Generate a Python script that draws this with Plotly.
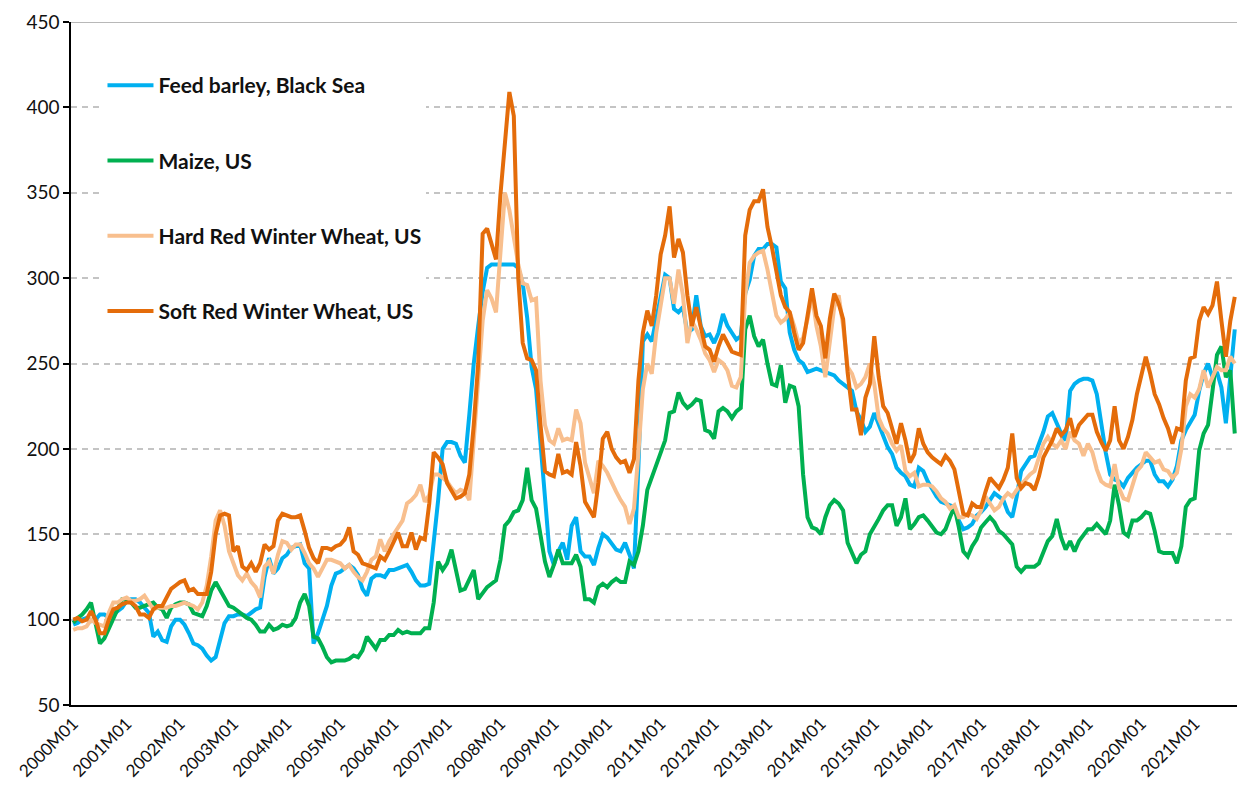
import plotly.graph_objects as go

# months 2000M01 .. 2021M10 (what is visible in the chart)
months = [f"{y}M{m:02d}" for y in range(2000, 2022) for m in range(1, 13)][:262]
tick_labels = [f"{y}M01" for y in range(2000, 2022)]

barley_black_sea = [
    97, 98, 100, 101, 99, 100, 103, 103, 101, 103, 105, 107,
    111, 112, 112, 110, 107, 104, 90, 93, 88, 87, 96, 100,
    100, 97, 92, 86, 85, 83, 79, 76, 78, 88, 98, 102,
    102, 103, 103, 102, 104, 106, 107, 125, 136, 127, 130, 136,
    138, 142, 143, 144, 133, 130, 86, 92, 100, 108, 120, 127,
    128, 130, 132, 130, 126, 118, 114, 124, 126, 126, 125, 129,
    129, 130, 131, 132, 128, 123, 120, 120, 121, 145, 170, 200,
    204, 204, 203, 196, 192, 220, 250, 272, 292, 306, 308, 308,
    308, 308, 308, 308, 306, 297, 277, 248, 235, 205, 170, 140,
    132, 140, 145, 135, 155, 160, 140, 137, 137, 132, 142, 150,
    148, 144, 141, 140, 145, 138, 130, 190, 263, 267, 263, 276,
    289, 302, 300, 282, 280, 283, 268, 270, 290, 272, 266, 267,
    262, 268, 279, 272, 268, 264, 266, 291, 299, 313, 317, 317,
    320, 320, 318, 298, 294, 268, 258, 252, 250, 245, 246, 247,
    246, 245, 244, 243, 240, 238, 236, 234, 222, 217, 210, 213,
    221, 214, 207, 201, 197, 189, 186, 184, 179, 178, 189, 187,
    181, 176, 172, 169, 168, 167, 166, 158, 153, 154, 156, 161,
    163, 166, 170, 174, 172, 170, 163, 160, 172, 187, 191, 195,
    196, 203, 210, 219, 221, 215, 209, 205, 234, 238, 240, 241,
    241, 240, 232, 215, 198, 185, 182, 181, 178, 183, 186, 189,
    191, 193, 193, 185, 181, 181, 178, 182, 190, 205, 211, 216,
    220, 234, 244, 250, 242, 245, 236, 215, 240, 270,
]

maize_us = [
    98, 101, 103, 106, 110, 97, 86, 89, 95, 101, 107, 112,
    112, 110, 107, 107, 108, 109, 110, 107, 106, 101, 107, 109,
    110, 110, 109, 104, 103, 102, 108, 117, 122, 117, 113, 108,
    107, 105, 103, 101, 100, 97, 93, 93, 97, 94, 95, 97,
    96, 97, 101, 110, 115, 108, 90, 89, 84, 78, 75, 76,
    76, 76, 77, 79, 78, 82, 90, 86, 83, 88, 88, 91,
    91, 94, 92, 93, 92, 92, 92, 95, 95, 110, 134, 129,
    133, 141, 130, 117, 118, 124, 129, 112, 116, 119, 121, 123,
    135, 155, 158, 163, 164, 170, 189, 170, 165, 148, 134, 125,
    132, 141, 133, 133, 133, 138, 131, 112, 112, 110, 119, 121,
    119, 122, 124, 122, 122, 134, 132, 140, 155, 176, 183, 190,
    198, 205, 221, 222, 233, 227, 224, 226, 229, 228, 211, 210,
    206, 222, 224, 222, 218, 222, 224, 270, 278, 266, 260, 264,
    250, 238, 237, 249, 227, 237, 236, 225, 185, 160, 154, 153,
    150, 160, 167, 170, 168, 164, 145, 139, 133, 138, 140, 150,
    154, 159, 164, 167, 167, 155, 160, 171, 153, 156, 160, 161,
    158, 154, 151, 150, 153, 160, 166, 154, 140, 137, 143, 147,
    154, 157, 160, 157, 152, 150, 147, 144, 131, 128, 131, 131,
    131, 133, 139, 146, 149, 159, 148, 141, 146, 140, 146, 150,
    153, 153, 156, 153, 150, 158, 179, 167, 151, 149, 158, 158,
    160, 163, 162, 152, 140, 139, 139, 139, 133, 143, 166, 170,
    171, 199, 209, 214, 234, 255, 260, 242, 246, 209,
]

hrw_wheat_us = [
    94, 95, 95, 96, 100, 98, 97, 96, 104, 110, 110, 112,
    113, 111, 111, 112, 114, 110, 106, 107, 107, 107, 108, 108,
    109, 110, 109, 108, 106, 110, 120, 137, 158, 164, 155, 140,
    133, 126, 123, 127, 122, 119, 113, 131, 134, 127, 138, 146,
    145, 141, 144, 144, 139, 133, 130, 125, 130, 135, 135, 134,
    133, 130, 132, 128, 125, 123, 128, 135, 137, 147, 140, 146,
    150, 155, 158, 168, 170, 173, 179, 169, 173, 185, 185, 183,
    181, 177, 174, 176, 175, 170, 205, 235, 275, 293, 288, 280,
    315, 350, 340, 322, 308, 297, 296, 287, 288, 240, 214, 205,
    203, 212, 205, 206, 205, 223, 215, 192, 183, 174, 193, 190,
    186, 180, 175, 170, 166, 156, 165, 198, 235, 250, 244, 268,
    286, 300, 300, 285, 305, 290, 262, 275, 270, 264, 256, 252,
    245, 252, 250, 246, 237, 236, 242, 290, 309, 313, 315, 316,
    305, 290, 278, 274, 276, 280, 272, 262, 265, 276, 290, 272,
    260, 242, 262, 283, 290, 272, 248, 244, 236, 238, 242, 250,
    238, 218, 212, 209, 203, 199, 202, 187, 184, 186, 178, 179,
    179, 178, 175, 171, 169, 165, 167, 160, 160, 162, 161, 159,
    164, 172, 168, 164, 166, 171, 174, 172, 176, 179, 182, 185,
    187, 195, 203, 207, 203, 201, 205, 200, 210, 205, 203, 196,
    203, 198, 188, 181, 179, 178, 191, 177, 171, 170, 179, 187,
    190, 198, 195, 192, 193, 188, 187, 183, 186, 200, 225, 232,
    230, 235, 246, 236, 242, 248, 246, 246, 254, 250,
]

srw_wheat_us = [
    100, 101, 99, 100, 105, 100, 92, 92, 100, 106, 107, 109,
    110, 110, 108, 103, 103, 101, 106, 108, 108, 113, 118, 120,
    122, 123, 117, 118, 115, 115, 115, 128, 150, 161, 162, 161,
    140, 143, 131, 129, 133, 128, 133, 144, 141, 143, 158, 162,
    161, 160, 160, 161, 152, 142, 136, 133, 142, 142, 141, 143,
    144, 147, 154, 140, 138, 133, 132, 131, 130, 137, 135, 140,
    146, 151, 143, 143, 151, 141, 148, 147, 168, 198, 195, 191,
    180, 176, 171, 172, 174, 185, 214, 250, 326, 329, 319, 311,
    349, 382, 409, 395, 300, 262, 253, 252, 246, 214, 187, 185,
    184, 197, 186, 187, 185, 204, 190, 169, 164, 160, 180, 206,
    210, 200, 195, 192, 193, 186, 194, 240, 268, 281, 272, 290,
    314, 325, 342, 312, 323, 315, 290, 272, 283, 272, 260, 258,
    251, 260, 267, 262, 257, 256, 255, 325, 340, 345, 345, 352,
    330, 318, 305, 290, 283, 280, 268, 258, 262, 280, 294, 278,
    272, 253, 276, 291, 285, 276, 245, 223, 223, 208, 230, 238,
    266, 242, 225, 221, 211, 203, 215, 205, 192, 197, 212, 203,
    198, 195, 193, 191, 196, 193, 188, 174, 162, 161, 168, 166,
    166, 175, 183, 180, 177, 182, 189, 209, 183, 177, 180, 179,
    176, 184, 195, 200, 205, 212, 208, 211, 218, 207, 214, 217,
    220, 220, 210, 204, 199, 205, 225, 205, 200, 207, 217, 232,
    242, 254, 244, 232, 226, 218, 212, 203, 212, 211, 240, 253,
    254, 275, 283, 279, 284, 298, 275, 254, 275, 289,
]

series = [
    ("Feed barley, Black Sea", barley_black_sea, "#00B0F0"),
    ("Maize, US", maize_us, "#00B050"),
    ("Hard Red Winter Wheat, US", hrw_wheat_us, "#F8BF8E"),
    ("Soft Red Winter Wheat, US", srw_wheat_us, "#E46C0A"),
]

FONT = "Lato, 'Open Sans', Arial, sans-serif"

fig = go.Figure()
for name, vals, color in series:
    fig.add_trace(go.Scatter(
        x=months, y=vals, name=name, mode="lines",
        line=dict(color=color, width=4),
        legendgroup=name,
    ))

fig.update_layout(
    width=1237, height=802,
    margin=dict(l=71, r=0, t=22, b=97),
    paper_bgcolor="white", plot_bgcolor="white",
    font=dict(family=FONT, color="#111111"),
    showlegend=True,
    legend=dict(
        x=0.027, y=0.937, xanchor="left", yanchor="top",
        bgcolor="white", borderwidth=0,
        font=dict(size=21, family=FONT, color="#111111", weight="bold"),
        tracegroupgap=45, itemwidth=46,
        entrywidth=290, entrywidthmode="pixels",
    ),
    xaxis=dict(
        type="category",
        range=[-0.5, 261.5],
        tickmode="array", tickvals=tick_labels, ticktext=tick_labels,
        tickangle=-45, tickfont=dict(size=17, color="#111111"),
        showgrid=False, showline=True, linecolor="black", linewidth=2,
        ticks="", zeroline=False, automargin=False,
    ),
    yaxis=dict(
        range=[50, 450], dtick=50, tick0=50,
        tickfont=dict(size=19, color="#111111"),
        showgrid=True, gridcolor="#C4C4C4", gridwidth=1.5, griddash="6px,5px",
        showline=True, linecolor="black", linewidth=1.5,
        ticks="outside", ticklen=6, tickcolor="black", tickwidth=1.5,
        zeroline=False, automargin=False,
    ),
    shapes=[dict(type="line", xref="paper", x0=0, x1=1, yref="y", y0=450, y1=450,
                 line=dict(color="#A0A0A0", width=1.5))],
)

# drop the default 8px page margin so the figure fills the window
fig.write_html("out.html", config={"displayModeBar": False},
               post_script="document.body.style.margin='0';")
